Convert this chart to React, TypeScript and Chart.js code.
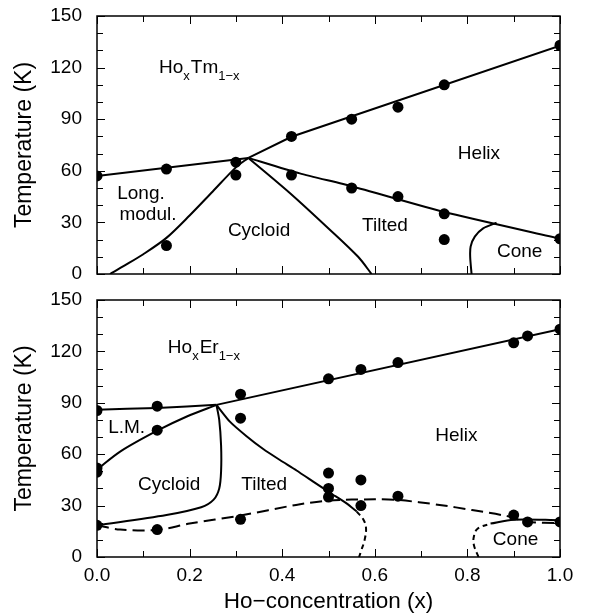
import React, { useEffect, useRef } from "react";
import { Chart, registerables } from "chart.js";
Chart.register(...registerables);

const FONT = "'Liberation Sans', Arial, Helvetica, sans-serif";

// ---------- Ho(x)Tm(1-x) panel ----------
const tmDotX = [0, 0.15, 0.3, 0.3, 0.15, 0.42, 0.42, 0.55, 0.65, 0.75, 1.0, 0.55, 0.65, 0.75, 0.75, 1.0];
const tmDotT = [57, 61, 65, 57.5, 16.5, 80, 57.5, 90, 97, 110, 133, 50, 45, 35, 20, 20.5];

const tmParaX = [0, 0.327];
const tmParaT = [57, 67.5];
const tmUpperX = [0.327, 0.42, 1.0];
const tmUpperT = [67.5, 79.8, 132.7];
const tmLowerX = [0.327, 0.438, 0.55, 0.75, 1.0];
const tmLowerT = [67.5, 58.5, 51, 36, 20.5];
const tmLongX = [0.028, 0.06, 0.1, 0.15, 0.2, 0.25, 0.3, 0.327];
const tmLongT = [0, 5, 11.5, 21, 34, 48, 62, 67.5];
const tmCycX = [0.327, 0.417, 0.5, 0.564, 0.593];
const tmCycT = [67.5, 47, 26.5, 10, 0];
const tmConeX = [0.809, 0.806, 0.807, 0.816, 0.834, 0.863];
const tmConeT = [0, 10, 16, 21.7, 26.5, 29.8];

const tmLabelText = ["Long.", "modul.", "Cycloid", "Tilted", "Helix", "Cone"];
const tmLabelX = [0.095, 0.11, 0.35, 0.622, 0.825, 0.913];
const tmLabelT = [46.5, 34.3, 25, 28.2, 69.9, 13.2];
const tmTitleParts = ["Ho", "x", "Tm", "1\u2212x"];
const tmTitleAt = [0.134, 117];

// ---------- Ho(x)Er(1-x) panel ----------
const erDotX = [0, 0, 0, 0, 0.13, 0.13, 0.13, 0.31, 0.31, 0.31, 0.5, 0.57, 0.65, 0.9, 0.93, 1.0, 0.5, 0.5, 0.5, 0.57, 0.57, 0.65, 0.9, 0.93, 1.0];
const erDotT = [85.5, 52, 49.5, 18.5, 88, 74, 16, 95, 81, 22, 104, 109.5, 113.5, 125, 129, 133, 49, 40, 35, 45, 30, 35.5, 24.5, 20.5, 20.5];

const erParaX = [0, 0.13, 0.258];
const erParaT = [86, 87, 88.8];
const erUpperX = [0.258, 1.0];
const erUpperT = [88.8, 133];
const erLmX = [0, 0.05, 0.13, 0.194, 0.258];
const erLmT = [51, 61.5, 73.7, 82, 88.8];
const erCycX = [0.258, 0.264, 0.268, 0.268, 0.264, 0.252, 0.225, 0.15, 0];
const erCycT = [88.8, 80, 65, 50, 40, 33.5, 29, 24.5, 18.5];
const erTiltX = [0.258, 0.287, 0.323, 0.359, 0.395, 0.431, 0.467, 0.503, 0.539, 0.561];
const erTiltT = [88.8, 79, 70.5, 63, 56.6, 50.5, 44, 37.5, 31.3, 26.5];
const erTiltEndX = [0.561, 0.575, 0.581, 0.578, 0.571, 0.566];
const erTiltEndT = [26.5, 22, 17, 10, 4, 0];
const erFanX = [0, 0.05, 0.13, 0.2, 0.31, 0.43, 0.5, 0.6, 0.65, 0.74, 0.81, 0.885, 0.93, 1.0];
const erFanT = [18.5, 16, 15.8, 19.5, 24.2, 30.4, 32.9, 33.7, 33.3, 30.4, 27.4, 23.9, 20.6, 19.7];
const erConeDashX = [0.824, 0.814, 0.814, 0.822, 0.85];
const erConeDashT = [0, 7, 12, 16.5, 19.5];
const erConeX = [0.85, 0.9, 1.0];
const erConeT = [19.5, 21.8, 21.5];

const erLabelText = ["L.M.", "Cycloid", "Tilted", "Helix", "Cone"];
const erLabelX = [0.064, 0.156, 0.361, 0.776, 0.904];
const erLabelT = [75.6, 42.4, 42, 70.7, 10.2];
const erTitleParts = ["Ho", "x", "Er", "1\u2212x"];
const erTitleAt = [0.153, 119.3];

const xTicks = [0, 0.2, 0.4, 0.6, 0.8, 1.0];

function pts(xs: number[], ys: number[]) {
  return xs.map((x, i) => ({ x, y: ys[i] }));
}

function lineDs(xs: number[], ys: number[], dash: number[] = [], tension = 0) {
  return {
    data: pts(xs, ys),
    showLine: true,
    borderColor: "#000",
    borderWidth: 2,
    borderDash: dash,
    pointRadius: 0,
    pointHoverRadius: 0,
    tension,
    fill: false,
  };
}

function dotDs(xs: number[], ys: number[]) {
  return {
    data: pts(xs, ys),
    showLine: false,
    pointRadius: 5.5,
    pointBackgroundColor: "#000",
    pointBorderColor: "#000",
    pointBorderWidth: 0,
  };
}

function framePlugin(labels: { text: string[]; x: number[]; t: number[] }, title: { parts: string[]; at: number[] }) {
  return {
    id: "frame",
    afterDatasetsDraw(chart: any) {
      const { ctx, chartArea: a, scales } = chart;
      const xs = scales.x;
      const ys = scales.y;
      ctx.save();
      ctx.strokeStyle = "#000";
      ctx.lineWidth = 1.5;
      ctx.strokeRect(a.left, a.top, a.right - a.left, a.bottom - a.top);
      ctx.lineWidth = 1;
      ctx.beginPath();
      for (let i = 0; i <= 10; i++) {
        const px = Math.round(xs.getPixelForValue(i / 10)) + 0.5;
        const len = i % 2 === 0 ? 8 : 6;
        ctx.moveTo(px, a.bottom);
        ctx.lineTo(px, a.bottom - len);
        ctx.moveTo(px, a.top);
        ctx.lineTo(px, a.top + len);
      }
      for (let v = 0; v <= 150; v += 10) {
        const py = Math.round(ys.getPixelForValue(v)) + 0.5;
        const len = v % 30 === 0 ? 8 : 6;
        ctx.moveTo(a.left, py);
        ctx.lineTo(a.left + len, py);
        ctx.moveTo(a.right, py);
        ctx.lineTo(a.right - len, py);
      }
      ctx.stroke();

      ctx.fillStyle = "#000";
      ctx.font = `19px ${FONT}`;
      ctx.textAlign = "center";
      ctx.textBaseline = "middle";
      labels.text.forEach((s, i) => {
        ctx.fillText(s, xs.getPixelForValue(labels.x[i]), ys.getPixelForValue(labels.t[i]));
      });

      // compound title with subscripts
      let cx = xs.getPixelForValue(title.at[0]);
      const cy = ys.getPixelForValue(title.at[1]);
      ctx.textAlign = "left";
      ctx.textBaseline = "alphabetic";
      title.parts.forEach((p, i) => {
        const sub = i % 2 === 1;
        ctx.font = sub ? `13px ${FONT}` : `19px ${FONT}`;
        ctx.fillText(p, cx, sub ? cy + 7 : cy);
        cx += ctx.measureText(p).width + (sub ? 1 : 0);
      });
      ctx.restore();
    },
  };
}

function yScale() {
  return {
    type: "linear",
    min: 0,
    max: 150,
    ticks: {
      stepSize: 30,
      color: "#000",
      padding: 0,
      font: { family: FONT, size: 19 },
    },
    grid: { display: false, drawTicks: true, tickLength: 15 },
    border: { display: false },
    title: {
      display: true,
      text: "Temperature (K)",
      color: "#000",
      font: { family: FONT, size: 23, lineHeight: 1 },
      padding: { top: 13, bottom: 0 },
    },
    afterFit(s: any) {
      s.width = 97;
    },
  };
}

function PanelChart(props: { bottom: boolean; height: number; datasets: any[]; plugin: any }) {
  const ref = useRef<HTMLCanvasElement | null>(null);
  useEffect(() => {
    if (!ref.current) return;
    const xScale: any = {
      type: "linear",
      min: 0,
      max: 1,
      display: props.bottom,
      afterBuildTicks(s: any) {
        s.ticks = xTicks.map((v) => ({ value: v }));
      },
      ticks: {
        color: "#000",
        padding: 0,
        font: { family: FONT, size: 19 },
        callback: (v: any) => Number(v).toFixed(1),
      },
      grid: { display: false, drawTicks: true, tickLength: 7 },
      border: { display: false },
      title: {
        display: true,
        text: "Ho\u2212concentration (x)",
        color: "#000",
        font: { family: FONT, size: 22.5, lineHeight: 1 },
        padding: { top: 0, bottom: 0 },
      },
    };
    if (props.bottom) {
      xScale.afterFit = (s: any) => {
        s.height = 56;
      };
    }
    const chart = new Chart(ref.current, {
      type: "scatter",
      data: { datasets: props.datasets },
      options: {
        responsive: false,
        animation: false,
        events: [],
        layout: {
          padding: props.bottom
            ? { top: 13, right: 36, bottom: 0, left: 0 }
            : { top: 16, right: 36, bottom: 13, left: 0 },
        },
        plugins: { legend: { display: false }, tooltip: { enabled: false } },
        scales: { x: xScale, y: yScale() as any },
      },
      plugins: [props.plugin],
    } as any);
    return () => chart.destroy();
  }, []);
  return <canvas ref={ref} width={596} height={props.height} style={{ display: "block" }} />;
}

export default function App() {
  const topSets = [
    dotDs(tmDotX, tmDotT),
    lineDs(tmParaX, tmParaT),
    lineDs(tmUpperX, tmUpperT),
    lineDs(tmLowerX, tmLowerT, [], 0.2),
    lineDs(tmLongX, tmLongT, [], 0.3),
    lineDs(tmCycX, tmCycT, [], 0.3),
    lineDs(tmConeX, tmConeT, [], 0.3),
  ];
  const botSets = [
    dotDs(erDotX, erDotT),
    lineDs(erParaX, erParaT, [], 0.2),
    lineDs(erUpperX, erUpperT),
    lineDs(erLmX, erLmT, [], 0.3),
    lineDs(erCycX, erCycT, [], 0.3),
    lineDs(erTiltX, erTiltT, [], 0.2),
    lineDs(erTiltEndX, erTiltEndT, [5, 4], 0.4),
    lineDs(erFanX, erFanT, [12, 6], 0.3),
    lineDs(erConeDashX, erConeDashT, [5, 4], 0.4),
    lineDs(erConeX, erConeT, [], 0.3),
  ];
  const topPlugin = framePlugin({ text: tmLabelText, x: tmLabelX, t: tmLabelT }, { parts: tmTitleParts, at: tmTitleAt });
  const botPlugin = framePlugin({ text: erLabelText, x: erLabelX, t: erLabelT }, { parts: erTitleParts, at: erTitleAt });
  return (
    <div style={{ position: "absolute", left: 0, top: 0, width: 596, height: 613, background: "#fff" }}>
      <PanelChart bottom={false} height={287} datasets={topSets} plugin={topPlugin} />
      <PanelChart bottom={true} height={326} datasets={botSets} plugin={botPlugin} />
    </div>
  );
}
